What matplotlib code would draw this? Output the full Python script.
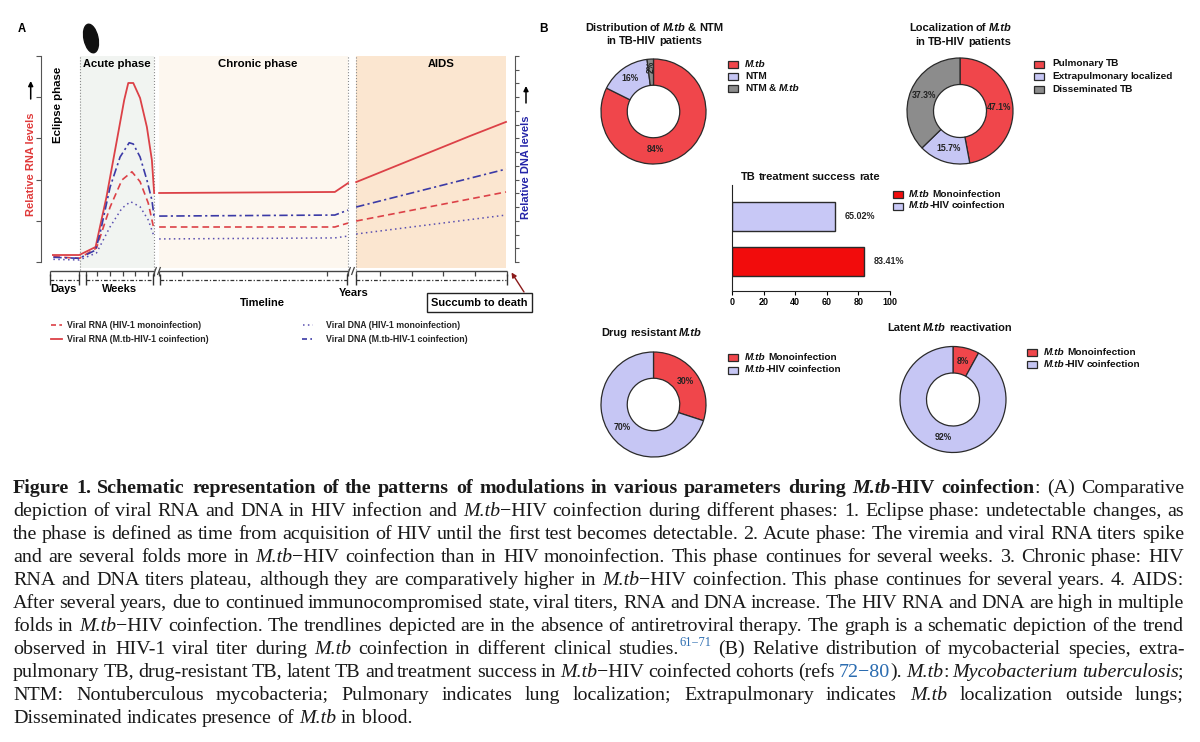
import numpy as np
import matplotlib
matplotlib.use('Agg')
import matplotlib.pyplot as plt
from matplotlib.patches import Rectangle, Ellipse

plt.rcParams['font.family'] = ['Liberation Sans', 'DejaVu Sans']
plt.rcParams['text.hinting'] = 'native'
nan = np.nan

# ---------------- Panel A: schematic viral titres (time 0-100, level 0-100) ----------------
t_rna_co = [0.2, 6.0, 9.6, 12.0, 14.3, 15.9, 16.8, 17.9, 19.4, 20.9, 22.0, 22.5, nan,
            23.6, 62.3, 65.2, nan, 67.0, 92.1, 100]
rna_co = [3.4, 3.4, 7.3, 31.6, 59.2, 78.6, 86.9, 86.9, 79.6, 65.5, 49.5, 33.5, nan,
          33.5, 34.0, 38.3, nan, 38.8, 61.2, 68.0]

t_dna_co = [0.3, 6.0, 9.6, 10.6, 12.8, 15.0, 17.0, 17.9, 19.4, 20.9, 22.0, 22.5, nan,
            23.6, 62.3, 65.2, nan, 67.0, 100]
dna_co = [2.3, 1.8, 5.8, 14.1, 36.4, 51.0, 57.9, 57.3, 51.0, 39.8, 30.1, 21.8, nan,
          22.3, 22.8, 25.2, nan, 26.7, 45.1]

t_rna_mono = [0.3, 6.0, 9.8, 12.8, 15.4, 17.6, 19.4, 21.2, 22.5, nan, 23.6, 62.3, 65.2, nan, 67.0, 100]
rna_mono = [2.6, 1.8, 6.8, 26.7, 39.8, 43.8, 39.0, 28.6, 15.5, nan, 17.0, 17.0, 18.9, nan, 19.9, 34.0]

t_dna_mono = [0.3, 6.0, 9.8, 12.8, 15.4, 17.3, 19.4, 21.2, 22.5, nan, 23.6, 62.3, 65.2, nan, 67.0, 100]
dna_mono = [1.3, 1.0, 4.4, 17.1, 26.1, 29.3, 26.8, 20.4, 12.3, nan, 11.2, 11.7, 12.6, nan, 13.6, 22.8]

phase_names = ['Acute phase', 'Chronic phase', 'AIDS']
legend_a = ['Viral RNA (HIV-1 monoinfection)', 'Viral RNA (M.tb-HIV-1 coinfection)',
            'Viral DNA (HIV-1 monoinfection)', 'Viral DNA (M.tb-HIV-1 coinfection)']

# ---------------- Panel B data ----------------
dist_labels = ['*M.tb*', 'NTM', 'NTM & *M.tb*']
dist_values = [84, 16, 2]
loc_labels = ['Pulmonary TB', 'Extrapulmonary localized', 'Disseminated TB']
loc_values = [47.1, 15.7, 37.3]
group_labels = ['*M.tb* Monoinfection', '*M.tb*-HIV coinfection']
success_values = [83.41, 65.02]
resist_values = [30, 70]
latent_values = [8, 92]

caption = [
    "#Figure 1. Schematic representation of the patterns of modulations in various parameters during *M.tb*-HIV coinfection#: (A) Comparative",
    "depiction of viral RNA and DNA in HIV infection and *M.tb*\u2212HIV coinfection during different phases: 1. Eclipse phase: undetectable changes, as",
    "the phase is defined as time from acquisition of HIV until the first test becomes detectable. 2. Acute phase: The viremia and viral RNA titers spike",
    "and are several folds more in *M.tb*\u2212HIV coinfection than in HIV monoinfection. This phase continues for several weeks. 3. Chronic phase: HIV",
    "RNA and DNA titers plateau, although they are comparatively higher in *M.tb*\u2212HIV coinfection. This phase continues for several years. 4. AIDS:",
    "After several years, due to continued immunocompromised state, viral titers, RNA and DNA increase. The HIV RNA and DNA are high in multiple",
    "folds in *M.tb*\u2212HIV coinfection. The trendlines depicted are in the absence of antiretroviral therapy. The graph is a schematic depiction of the trend",
    "observed in HIV-1 viral titer during *M.tb* coinfection in different clinical studies.^~61\u221271~^ (B) Relative distribution of mycobacterial species, extra-",
    "pulmonary TB, drug-resistant TB, latent TB and treatment success in *M.tb*\u2212HIV coinfected cohorts (refs ~72\u221280~). *M.tb*: *Mycobacterium tuberculosis*;",
    "NTM: Nontuberculous mycobacteria; Pulmonary indicates lung localization; Extrapulmonary indicates *M.tb* localization outside lungs;",
    "Disseminated indicates presence of *M.tb* in blood.",
]

RED = '#f0464b'
LAV = '#c6c6f4'
GREY = '#8c8c8c'
EDGE = '#2a2a2a'
LRED = '#dc4147'
LBLUE = '#3b3aa6'

W, H = 1200, 742
fig = plt.figure(figsize=(12, 7.42), dpi=100)
renderer = fig.canvas.get_renderer()


def px_axes(x0, y0, x1, y1):
    return fig.add_axes([x0 / W, 1 - y1 / H, (x1 - x0) / W, (y1 - y0) / H])


# overlay in pixel coordinates for annotations and text
deco = fig.add_axes([0, 0, 1, 1], zorder=5)
deco.set_xlim(0, W)
deco.set_ylim(H, 0)
deco.axis('off')

SANS = ['Liberation Sans', 'DejaVu Sans']


def parse(s, bold=False):
    marks = {'#': 0, '*': 1, '^': 2, '~': 3}
    st = [bold, False, False, False]
    words, cur, piece = [], [], ''
    for ch in s:
        if ch in marks:
            if piece:
                cur.append((piece, tuple(st)))
                piece = ''
            st[marks[ch]] = not st[marks[ch]]
        elif ch == ' ':
            if piece:
                cur.append((piece, tuple(st)))
                piece = ''
            if cur:
                words.append(cur)
                cur = []
        else:
            piece += ch
    if piece:
        cur.append((piece, tuple(st)))
    if cur:
        words.append(cur)
    return words


def kw_for(st, size, family, color):
    return dict(fontsize=size * 0.62 if st[2] else size,
                fontweight='bold' if st[0] else 'normal',
                fontstyle='italic' if st[1] else 'normal',
                family=family, color='#2b6cb0' if st[3] else color)


def text_w(txt, kw):
    t = deco.text(0, 0, txt, **kw)
    w = t.get_window_extent(renderer).width
    t.remove()
    return w


def draw_words(x0, y, s, size, family=SANS, bold=True, color='#111111',
               width=None, align='left', va='center', space=1.0):
    words = parse(s, bold)
    ws = [[text_w(p, kw_for(st, size, family, color)) for p, st in w] for w in words]
    tot = [sum(a) for a in ws]
    base = kw_for((bold, False, False, False), size, family, color)
    sp = (text_w('n n', base) - text_w('nn', base)) * space
    gap = sp
    if width is not None and len(words) > 1:
        gap = (width - sum(tot)) / (len(words) - 1)
    full = sum(tot) + gap * (len(words) - 1)
    x = x0 - full / 2 if align == 'center' else x0
    for w, wl in zip(words, ws):
        for (p, st), pw in zip(w, wl):
            dy = -round(size * 100 / 72 * 0.42) if st[2] else 0
            deco.text(round(x), y + dy, p, ha='left', va=va, **kw_for(st, size, family, color))
            x += pw
        x += gap


def pline(xs, ys, **kw):
    deco.plot(xs, ys, solid_capstyle='butt', **kw)


# ================= Panel A =================
ax = px_axes(41, 56, 515, 268.2)
ax.set_xlim((41 - 52) / 4.54, (515 - 52) / 4.54)
ax.set_ylim(-3, 100)
ax.axvspan(6.17, 22.47, color='#f1f4f1', lw=0)
ax.axvspan(23.57, 65.2, color='#fdf7ef', lw=0)
ax.axvspan(66.96, 100, color='#fbe6d0', lw=0)
for xv in [6.17, 22.47, 65.2, 66.96]:
    ax.plot([xv, xv], [-4, 100], ls=':', color='#8a8a8a', lw=0.8, clip_on=False)

ax.plot(t_rna_co, rna_co, color=LRED, lw=1.3)
ax.plot(t_rna_mono, rna_mono, color=LRED, lw=1.2, dashes=(4, 2.5))
ax.plot(t_dna_co, dna_co, color=LBLUE, lw=1.2, dashes=(5, 2, 1.3, 2))
ax.plot(t_dna_mono, dna_mono, color='#5a4fb0', lw=1.1, dashes=(1, 2.2))

for s in ['top', 'bottom', 'right']:
    ax.spines[s].set_visible(False)
ax.spines['left'].set_bounds(0, 100)
ax.spines['left'].set_color('#555555')
ax.set_xticks([])
ax.set_yticks(np.arange(0, 101, 20))
ax.tick_params(axis='y', length=3.5, color='#555555', labelleft=False)

ax2 = ax.twinx()
ax2.set_ylim(-3, 100)
for s in ['top', 'bottom', 'left']:
    ax2.spines[s].set_visible(False)
ax2.spines['right'].set_bounds(0, 100)
ax2.spines['right'].set_color('#555555')
ax2.set_yticks(np.linspace(0, 100, 16))
ax2.tick_params(axis='y', length=3, color='#555555', labelright=False)

deco.text(22, 28, 'A', fontsize=8.5, fontweight='bold', ha='center', va='center')
deco.add_patch(Ellipse((91, 38.5), 14, 29, angle=-12, color='#111111'))
for name, xc in zip(phase_names, [117, 258, 441]):
    deco.text(xc, 64, name, fontsize=8.2, fontweight='bold', ha='center', va='center')
deco.text(58, 104.5, 'Eclipse phase', rotation=90, fontsize=8.2, fontweight='bold',
          ha='center', va='center')
deco.text(30.7, 164, 'Relative RNA levels', rotation=90, fontsize=8, fontweight='bold',
          color='#e03a3a', ha='center', va='center')
deco.text(526, 167.5, 'Relative DNA levels', rotation=90, fontsize=8, fontweight='bold',
          color='#2424a8', ha='center', va='center')
for xa, ytop, ybot in [(30.7, 81, 99), (526, 86, 103)]:
    deco.annotate('', xy=(xa, ytop), xytext=(xa, ybot),
                  arrowprops=dict(arrowstyle='-|>', color='k', lw=1.1, mutation_scale=7,
                                  shrinkA=0, shrinkB=0))

# timeline
for a, b in [(50, 154), (159, 348), (356, 507)]:
    pline([a, b], [271, 271], color='#444444', lw=1)
for xt in [50, 79, 86, 97, 110, 123, 135, 148, 154, 159, 182, 327, 348,
           356, 380, 412, 443, 475, 507]:
    pline([xt, xt], [271, 275.5], color='#444444', lw=0.9)
for a, b in [(50, 79), (86, 153), (160, 347), (356, 506)]:
    deco.plot([a, b], [280, 280], color='#333333', lw=0.9, dashes=(3, 1.5, 1, 1.5))
for xt in [50, 79, 86, 153, 160, 347, 356, 507]:
    pline([xt, xt], [274, 285], color='#333333', lw=1)
for xb in [153.5, 347.5]:
    pline([xb, xb + 3], [275, 267], color='#444444', lw=0.9)
    pline([xb + 4, xb + 7], [275, 267], color='#444444', lw=0.9)
for txt, xc, yc in [('Days', 63.5, 289), ('Weeks', 120, 289), ('Years', 354, 293),
                    ('Timeline', 262, 303)]:
    deco.text(xc, yc, txt, fontsize=8, fontweight='bold', ha='center', va='center')
deco.add_patch(Rectangle((427, 293), 105, 19, fill=False, lw=1, ec='#222222'))
deco.text(479.5, 302.5, 'Succumb to death', fontsize=8, fontweight='bold', ha='center', va='center')
deco.annotate('', xy=(511.5, 272.5), xytext=(524, 292),
              arrowprops=dict(arrowstyle='-|>', color='#8b1a1a', lw=1, mutation_scale=7,
                              shrinkA=0, shrinkB=0))

# panel A legend
leg_styles = [dict(color=LRED, lw=1.2, dashes=(3, 2)), dict(color=LRED, lw=1.3),
              dict(color='#5a4fb0', lw=1.1, dashes=(1, 2.2)),
              dict(color=LBLUE, lw=1.2, dashes=(3, 2, 1, 2))]
leg_pos = [(51, 62, 67, 325), (51, 62, 67, 339), (303, 313, 326, 325), (302, 312, 326, 339)]
for lab, sty, (a, b, xt, yy) in zip(legend_a, leg_styles, leg_pos):
    deco.plot([a, b], [yy, yy], **sty)
    deco.text(xt, yy, lab, fontsize=6.4, fontweight='bold', color='#222222', va='center')

# ================= Panel B =================
deco.text(543, 28, 'B', fontsize=8.5, fontweight='bold', ha='center', va='center')


def donut(cx, cy, r, values, colors, angles=None, rots=None, radii=None):
    k = 1.03
    axd = px_axes(cx - r * k, cy - r * k, cx + r * k, cy + r * k)
    wedges, _ = axd.pie(values, colors=colors, startangle=90, counterclock=False, radius=1,
                        wedgeprops=dict(width=0.5, edgecolor=EDGE, linewidth=0.9))
    axd.set_xlim(-k, k)
    axd.set_ylim(-k, k)
    for i, (w, v) in enumerate(zip(wedges, values)):
        ang = (w.theta1 + w.theta2) / 2
        if angles and angles[i] is not None:
            ang = angles[i]
        rr = radii[i] if radii else 0.74
        rot = rots[i] if rots else 0
        axd.text(rr * np.cos(np.radians(ang)), rr * np.sin(np.radians(ang)), f'{v:g}%',
                 ha='center', va='center', fontsize=6.3, fontweight='bold', color='#222222',
                 rotation=rot)


def swatch_legend(x_sw, x_txt, rows, labels, colors):
    for yy, lab, c in zip(rows, labels, colors):
        deco.add_patch(Rectangle((x_sw, yy - 3.5), 10, 7, fc=c, ec=EDGE, lw=0.9))
        draw_words(x_txt, yy, lab, 7.2, space=0.85)


donut(653.5, 111.5, 52.5, dist_values, [RED, LAV, GREY], angles=[-88, None, None],
      rots=[0, 0, 90], radii=[0.72, 0.76, 0.86])
draw_words(654, 28, 'Distribution of *M.tb* & NTM', 8, align='center', space=0.85)
draw_words(654, 41.5, 'in TB-HIV patients', 8, align='center', space=0.85)
swatch_legend(728, 745, [64.3, 76.5, 88.8], dist_labels, [RED, LAV, GREY])

donut(960, 111, 53, loc_values, [RED, LAV, GREY])
draw_words(960.5, 28, 'Localization of *M.tb*', 8, align='center', space=0.85)
draw_words(963, 42, 'in TB-HIV patients', 8, align='center', space=0.85)
swatch_legend(1034, 1052, [64, 76.7, 89], loc_labels, [RED, LAV, GREY])

# bar chart
axb = px_axes(732, 185, 890, 291)
bar_colors = ['#f20c0c', '#c8c8f6']
axb.barh([0, 1], success_values, height=0.644, color=bar_colors, edgecolor=EDGE, lw=1)
axb.set_xlim(0, 100)
axb.set_ylim(-0.656, 1.7)
for s in ['top', 'right']:
    axb.spines[s].set_visible(False)
for s in ['left', 'bottom']:
    axb.spines[s].set_color('#222222')
axb.set_yticks([])
axb.set_xticks(np.arange(0, 101, 20))
axb.tick_params(axis='x', length=3, pad=2, labelsize=6.5)
for lab in axb.get_xticklabels():
    lab.set_fontweight('bold')
for i, v in enumerate(success_values):
    axb.text(v + 6.5, i, f'{v:.2f}%', va='center', ha='left', fontsize=6.5, fontweight='bold',
             color='#222222')
draw_words(810.5, 177, 'TB treatment success rate', 8, align='center', space=0.85)
swatch_legend(893, 909, [194.3, 206], group_labels, bar_colors)

donut(653.5, 404.5, 52.5, resist_values, [RED, LAV])
draw_words(601, 333, 'Drug resistant *M.tb*', 8, space=0.85)
swatch_legend(728, 745, [357.3, 370], group_labels, [RED, LAV])

donut(953, 399.5, 53, latent_values, [RED, LAV])
draw_words(887, 328, 'Latent *M.tb* reactivation', 8, space=0.85)
swatch_legend(1027, 1044, [352.7, 364.3], group_labels, [RED, LAV])

# ================= caption =================
for i, line in enumerate(caption):
    last = i == len(caption) - 1
    draw_words(13, 493 + 23 * i, line, 14.4, family='Liberation Serif', bold=False,
               color='#1a1a1a', width=None if last else 1171, va='baseline')

fig.savefig('out.png', dpi=100)
